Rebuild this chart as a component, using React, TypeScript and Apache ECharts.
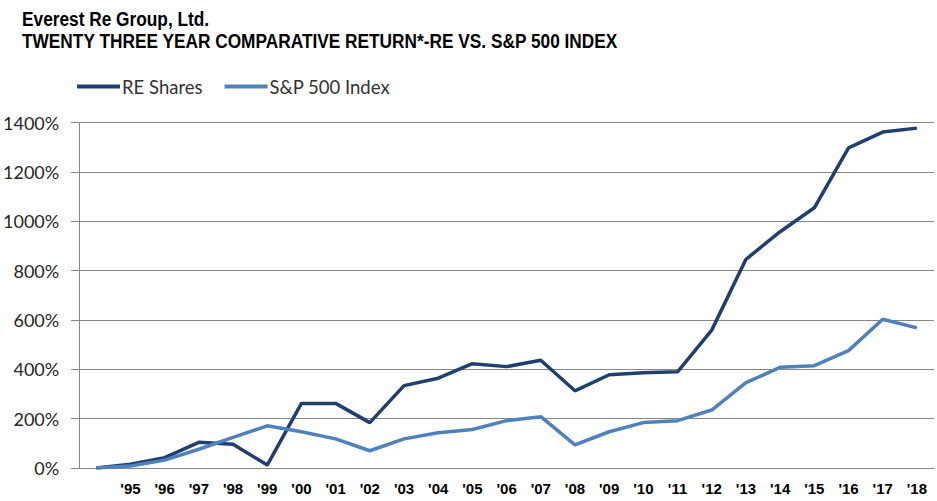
import React, { useEffect, useRef } from "react";
import * as echarts from "echarts";

const categories = ["", "'95", "'96", "'97", "'98", "'99", "'00", "'01", "'02", "'03", "'04", "'05", "'06", "'07", "'08", "'09", "'10", "'11", "'12", "'13", "'14", "'15", "'16", "'17", "'18"];
const reShares = [0, 15, 42, 104, 96, 12, 262, 262, 184, 334, 364, 423, 411, 437, 313, 378, 386, 390, 559, 846, 958, 1055, 1298, 1362, 1378];
const sp500 = [0, 8, 32, 76, 124, 171, 147, 118, 70, 118, 143, 156, 192, 208, 94, 147, 184, 192, 235, 346, 408, 415, 476, 603, 568];
const yTicks = { min: 0, max: 1400, interval: 200 };
const titleLines = ["Everest Re Group, Ltd.", "TWENTY THREE YEAR COMPARATIVE RETURN*-RE VS. S&P 500 INDEX"];

export default function App() {
  const ref = useRef<HTMLDivElement>(null);
  useEffect(() => {
    if (!ref.current) return;
    const chart = echarts.init(ref.current, undefined, { renderer: "svg" });
    const titleFont = "bold 21px 'Liberation Sans', Arial, sans-serif";
    chart.setOption({
      animation: false,
      backgroundColor: "#ffffff",
      graphic: titleLines.map((t, i) => ({
        type: "text",
        x: 22,
        y: 8 + i * 22,
        scaleX: 0.823,
        style: { text: t, x: 0, y: 0, font: titleFont, fill: "#000000", verticalAlign: "top", align: "left" },
      })),
      legend: {
        left: 77,
        top: 77,
        padding: 0,
        icon: "rect",
        itemWidth: 43,
        itemHeight: 4,
        itemGap: 22,
        textStyle: { fontFamily: "Lato, sans-serif", fontSize: 18.5, color: "#333333", padding: [0, 0, 0, -3] },
        data: ["RE Shares", "S&P 500 Index"],
      },
      grid: { left: 79, right: 3, top: 122.7, bottom: 33, containLabel: false },
      xAxis: {
        type: "category",
        data: categories,
        boundaryGap: true,
        axisLine: { show: true, lineStyle: { color: "#868686", width: 1 } },
        axisTick: { show: false },
        axisLabel: {
          margin: 13,
          interval: 0,
          fontFamily: "'Liberation Sans', Arial, sans-serif",
          fontWeight: "bold",
          fontSize: 15,
          color: "#000000",
        },
      },
      yAxis: {
        type: "value",
        min: yTicks.min,
        max: yTicks.max,
        interval: yTicks.interval,
        axisLine: { show: true, lineStyle: { color: "#868686", width: 1 } },
        axisTick: { show: true, length: 8, lineStyle: { color: "#868686" } },
        splitLine: { show: true, lineStyle: { color: "#868686", width: 1 } },
        axisLabel: {
          margin: 20,
          formatter: (v: number) => v + "%",
          fontFamily: "Lato, sans-serif",
          fontSize: 18,
          color: "#262626",
        },
      },
      series: [
        {
          name: "RE Shares",
          type: "line",
          data: reShares,
          symbol: "none",
          lineStyle: { color: "#1F3F6E", width: 3.5 },
          itemStyle: { color: "#1F3F6E" },
        },
        {
          name: "S&P 500 Index",
          type: "line",
          data: sp500,
          symbol: "none",
          lineStyle: { color: "#4F81BD", width: 3.5 },
          itemStyle: { color: "#4F81BD" },
        },
      ],
    });
    return () => chart.dispose();
  }, []);
  return <div ref={ref} style={{ width: 937, height: 501, position: "absolute", left: 0, top: 0 }} />;
}
